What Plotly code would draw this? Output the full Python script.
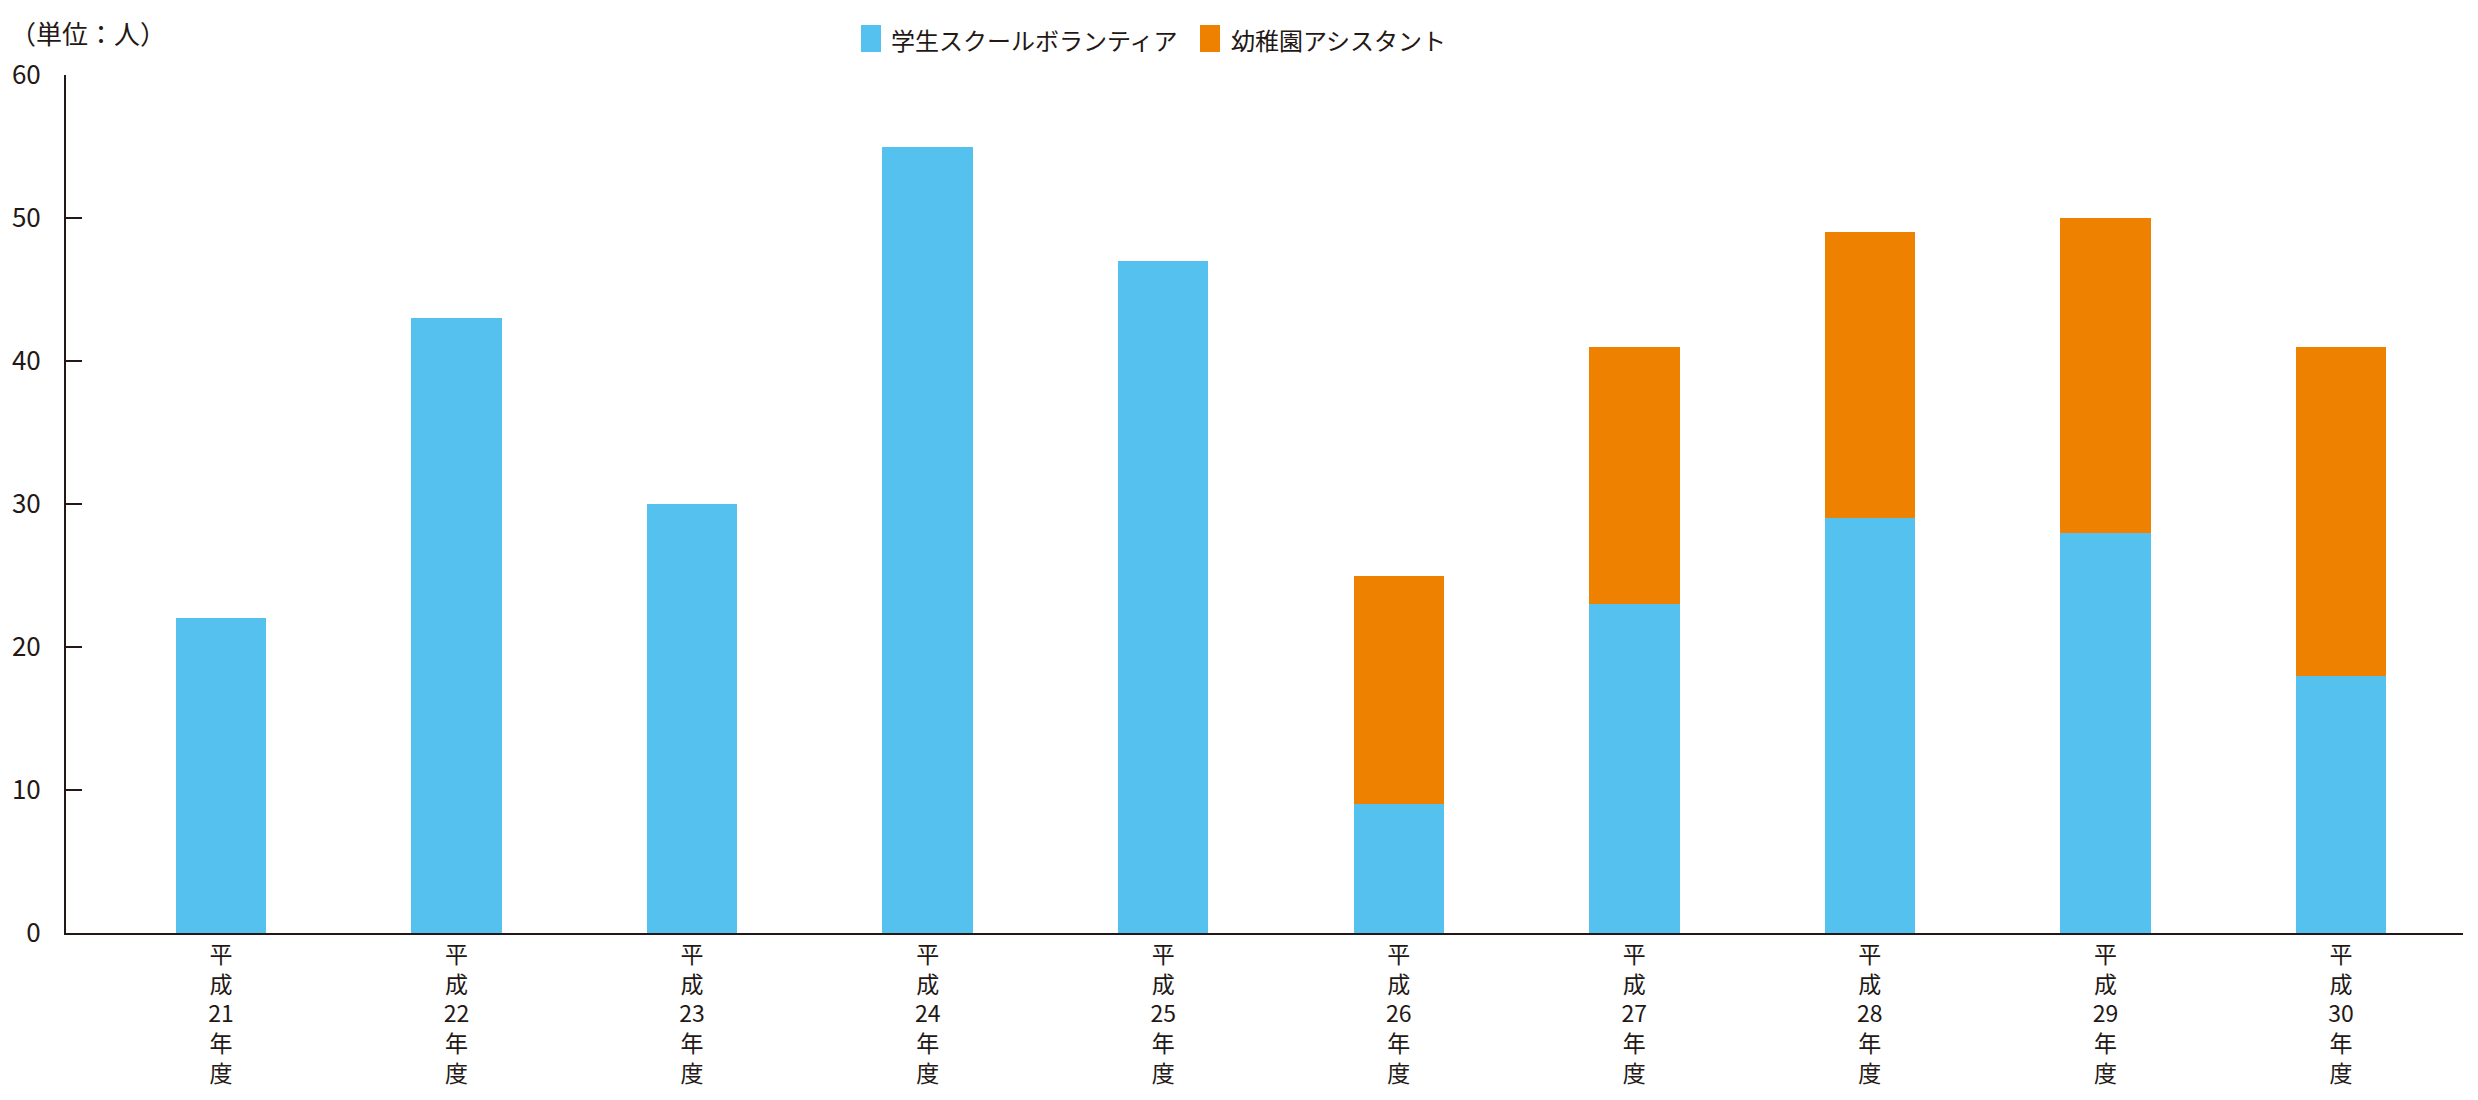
import plotly.graph_objects as go

# データ
categories = ["平成21年度", "平成22年度", "平成23年度", "平成24年度", "平成25年度",
              "平成26年度", "平成27年度", "平成28年度", "平成29年度", "平成30年度"]
student_volunteer = [22, 43, 30, 55, 47, 9, 23, 29, 28, 18]
kindergarten_assistant = [0, 0, 0, 0, 0, 16, 18, 20, 22, 23]
series_names = ["学生スクールボランティア", "幼稚園アシスタント"]
y_ticks = [0, 10, 20, 30, 40, 50, 60]

BLUE = "#55C1EF"
ORANGE = "#EE8200"
INK = "#231815"
FONT = "Noto Sans CJK JP"

# 縦書き風のラベル
def vertical_label(s):
    parts = []
    buf = ""
    for ch in s:
        if ch.isdigit():
            buf += ch
        else:
            if buf:
                parts.append(buf)
                buf = ""
            parts.append(ch)
    if buf:
        parts.append(buf)
    return "<br>".join(parts)

tick_text = [vertical_label(c) for c in categories]
x = list(range(len(categories)))

fig = go.Figure()
fig.add_trace(go.Bar(x=x, y=student_volunteer, name=series_names[0],
                     marker=dict(color=BLUE, line=dict(width=0)), width=0.384,
                     showlegend=False))
fig.add_trace(go.Bar(x=x, y=kindergarten_assistant, name=series_names[1],
                     marker=dict(color=ORANGE, line=dict(width=0)), width=0.384,
                     showlegend=False))

# ページ座標 -> paper座標
def px(v):
    return (v - 66) / 2397

def py(v):
    return (933 - v) / 858

# 凡例（手書き）
legend_items = [(series_names[0], BLUE, 861, 889), (series_names[1], ORANGE, 1200, 1229)]
for name, color, sx, tx in legend_items:
    fig.add_shape(type="rect", xref="paper", yref="paper",
                  x0=px(sx), x1=px(sx + 20), y0=py(52), y1=py(25),
                  fillcolor=color, line=dict(width=0))
    fig.add_annotation(text=name, xref="paper", yref="paper",
                       x=px(tx), y=py(39),
                       xanchor="left", yanchor="middle", showarrow=False,
                       font=dict(size=24, color=INK, family=FONT))

fig.add_annotation(text="（単位：人）", xref="paper", yref="paper",
                   x=px(8), y=py(33),
                   xanchor="left", yanchor="middle", showarrow=False,
                   font=dict(size=26, color=INK, family=FONT))

fig.update_layout(
    barmode="stack",
    width=2462, height=1084,
    paper_bgcolor="white", plot_bgcolor="white",
    margin=dict(l=58, r=7, t=67, b=159),
    font=dict(family=FONT, color=INK),
    xaxis=dict(
        tickmode="array", tickvals=x, ticktext=tick_text,
        range=[-0.658, 9.518], automargin=False,
        showline=True, linecolor=INK, linewidth=2,
        ticks="", showgrid=False, zeroline=False,
        tickfont=dict(size=23, family=FONT, color=INK),
        ticklabelstandoff=0,
    ),
    yaxis=dict(
        range=[0, 60], tickmode="array", tickvals=y_ticks, automargin=False,
        showline=True, linecolor=INK, linewidth=2,
        ticks="inside", ticklen=16, tickwidth=2, tickcolor=INK,
        showgrid=False, zeroline=False,
        tickfont=dict(size=26, family=FONT, color=INK),
        ticklabelstandoff=18,
    ),
)

fig.write_html("out.html")
